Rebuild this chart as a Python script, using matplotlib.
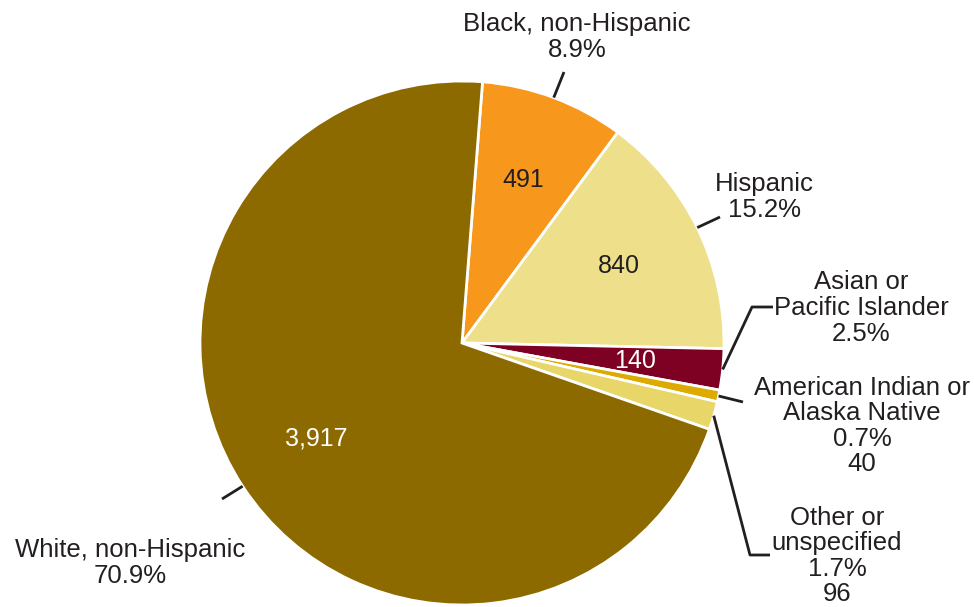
import numpy as np
import matplotlib.pyplot as plt

plt.rcParams['font.family'] = ['Liberation Sans', 'DejaVu Sans']

# data
groups = ['Black, non-Hispanic', 'Hispanic', 'Asian or\nPacific Islander',
          'American Indian or\nAlaska Native', 'Other or\nunspecified', 'White, non-Hispanic']
counts = [491, 840, 140, 40, 96, 3917]
pcts = ['8.9%', '15.2%', '2.5%', '0.7%', '1.7%', '70.9%']
show_count_outside = [False, False, False, True, True, False]
colors = ['#F7981D', '#EEE08A', '#7E0023', '#DDAA00', '#E8D668', '#8C6A00']
inner_text_col = ['#231F20', '#231F20', 'white', None, None, 'white']

TXT = '#231F20'
W, H = 974, 607
fig = plt.figure(figsize=(W / 100, H / 100), dpi=100)
ax = fig.add_axes([0, 0, 1, 1])

cx, cy, R = 462, H - 343, 262
wedges, _ = ax.pie(counts, colors=colors, startangle=85.5, counterclock=False,
                   center=(cx, cy), radius=R, frame=True,
                   wedgeprops=dict(edgecolor='white', linewidth=2))
ax.set_xlim(0, W)
ax.set_ylim(0, H)
ax.set_aspect('equal')
ax.axis('off')

# outer label layout (pixel coords, y from top): text centre, leader path
label_pos = [(577, 37), (764, 197), (861, 308), (862, 426), (837, 556), (130, 563)]
leader_pts = [[(564, 72)], [(720, 217)], [(752, 307), (773, 307)],
              [(743, 402)], [(750, 555), (770, 555)], [(222, 499)]]

for i, w in enumerate(wedges):
    mid = np.deg2rad((w.theta1 + w.theta2) / 2)
    # count inside the slice
    if inner_text_col[i]:
        r_in = 0.665 * R
        ax.text(cx + r_in * np.cos(mid), cy + r_in * np.sin(mid), f'{counts[i]:,}',
                ha='center', va='center', fontsize=18, color=inner_text_col[i])
    # outer label
    txt = groups[i] + '\n' + pcts[i]
    if show_count_outside[i]:
        txt += '\n' + f'{counts[i]:,}'
    lx, ly = label_pos[i]
    ax.text(lx, H - ly, txt, ha='center', va='center', fontsize=18.5,
            color=TXT, linespacing=1.08)
    # leader line from slice edge
    ex, ey = cx + R * np.cos(mid), cy + R * np.sin(mid)
    xs = [ex] + [p[0] for p in leader_pts[i]]
    ys = [ey] + [H - p[1] for p in leader_pts[i]]
    ax.plot(xs, ys, color=TXT, lw=2, solid_capstyle='butt')

fig.savefig('out.png', dpi=100)
